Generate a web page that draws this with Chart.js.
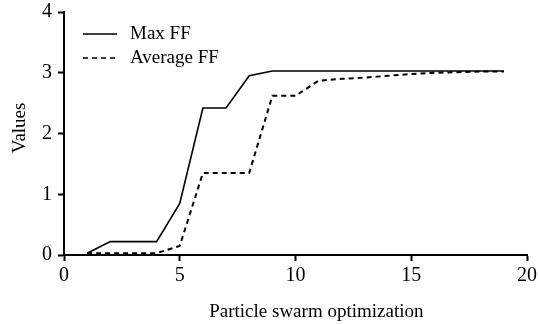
<!DOCTYPE html>
<html lang="en">
<head>
    <meta charset="UTF-8">
    <title>Max FF vs Average FF</title>
    <script src="https://cdn.jsdelivr.net/npm/chart.js"></script>
    <style>
        html, body { margin: 0; padding: 0; background: #fff; }
        #wrap { width: 538px; height: 324px; }
    </style>
</head>
<body>
<div id="wrap"><canvas id="ffChart" width="538" height="324"></canvas></div>

<script>
    // values
    const iterations = [1, 2, 3, 4, 5, 6, 7, 8, 9, 10, 11, 12, 13, 14, 15, 16, 17, 18, 19];
    const maxFF = [0.03, 0.22, 0.22, 0.22, 0.85, 2.42, 2.42, 2.95, 3.03, 3.03, 3.03, 3.03, 3.03, 3.03, 3.03, 3.03, 3.03, 3.03, 3.03];
    const avgFF = [0.03, 0.03, 0.03, 0.03, 0.15, 1.35, 1.35, 1.35, 2.62, 2.62, 2.87, 2.90, 2.92, 2.95, 2.98, 3.00, 3.01, 3.02, 3.02];
    const seriesNames = ['Max FF', 'Average FF'];
    const xTicks = [0, 5, 10, 15, 20];
    const yTicks = [0, 1, 2, 3, 4];
    const xTitle = 'Particle swarm optimization';
    const yTitle = 'Values';

    const FONT = "'Liberation Serif', 'Times New Roman', serif";

    function toPoints(xs, ys) {
        return xs.map((x, i) => ({ x: x, y: ys[i] }));
    }

    // legend inside the plot (top left) and the two axis titles,
    // which sit off-centre in the original figure
    const extras = {
        id: 'extras',
        afterDraw(chart) {
            const ctx = chart.ctx;
            const area = chart.chartArea;
            ctx.save();
            ctx.fillStyle = '#000';
            ctx.font = '19px ' + FONT;
            ctx.textBaseline = 'middle';
            chart.data.datasets.forEach((ds, i) => {
                const y = area.top + 22 + i * 24;
                ctx.strokeStyle = '#000';
                ctx.lineWidth = 1.6;
                ctx.setLineDash(ds.borderDash || []);
                ctx.beginPath();
                ctx.moveTo(area.left + 19, y);
                ctx.lineTo(area.left + 53, y);
                ctx.stroke();
                ctx.setLineDash([]);
                ctx.fillText(ds.label, area.left + 66, y);
            });

            ctx.textBaseline = 'alphabetic';
            ctx.textAlign = 'center';
            ctx.fillText(xTitle, area.left + (area.right - area.left) * 0.545, 317);

            ctx.translate(24.5, area.top + (area.bottom - area.top) * 0.477);
            ctx.rotate(-Math.PI / 2);
            ctx.fillText(yTitle, 0, 0);
            ctx.restore();
        }
    };

    const ctx = document.getElementById('ffChart').getContext('2d');
    new Chart(ctx, {
        type: 'line',
        data: {
            datasets: [
                {
                    label: seriesNames[0],
                    data: toPoints(iterations, maxFF),
                    borderColor: '#000',
                    borderWidth: 1.6,
                    pointRadius: 0,
                    fill: false,
                    tension: 0
                },
                {
                    label: seriesNames[1],
                    data: toPoints(iterations, avgFF),
                    borderColor: '#000',
                    borderWidth: 2,
                    borderDash: [5, 4],
                    pointRadius: 0,
                    fill: false,
                    tension: 0
                }
            ]
        },
        options: {
            responsive: false,
            animation: false,
            layout: { padding: { top: 12, right: 11, left: 0, bottom: 0 } },
            plugins: {
                legend: { display: false },
                tooltip: { enabled: false }
            },
            scales: {
                x: {
                    type: 'linear',
                    min: 0,
                    max: 20,
                    afterBuildTicks: (scale) => { scale.ticks = xTicks.map(v => ({ value: v })); },
                    afterFit: (scale) => {
                        scale.height = 69;
                        scale.paddingLeft = 0;
                        scale.paddingRight = 0;
                    },
                    border: { color: '#000', width: 2 },
                    grid: { drawOnChartArea: false, drawTicks: true, tickLength: 6, tickColor: '#000', tickWidth: 2 },
                    ticks: { color: '#000', padding: 3, maxRotation: 0, font: { family: FONT, size: 20 } }
                },
                y: {
                    min: 0,
                    max: 4,
                    afterBuildTicks: (scale) => { scale.ticks = yTicks.map(v => ({ value: v })); },
                    afterFit: (scale) => {
                        scale.width = 64;
                        scale.paddingTop = 0;
                        scale.paddingBottom = 0;
                    },
                    border: { color: '#000', width: 2 },
                    grid: { drawOnChartArea: false, drawTicks: true, tickLength: 6, tickColor: '#000', tickWidth: 2 },
                    ticks: { color: '#000', padding: 6, font: { family: FONT, size: 20 } }
                }
            }
        },
        plugins: [extras]
    });
</script>
</body>
</html>
